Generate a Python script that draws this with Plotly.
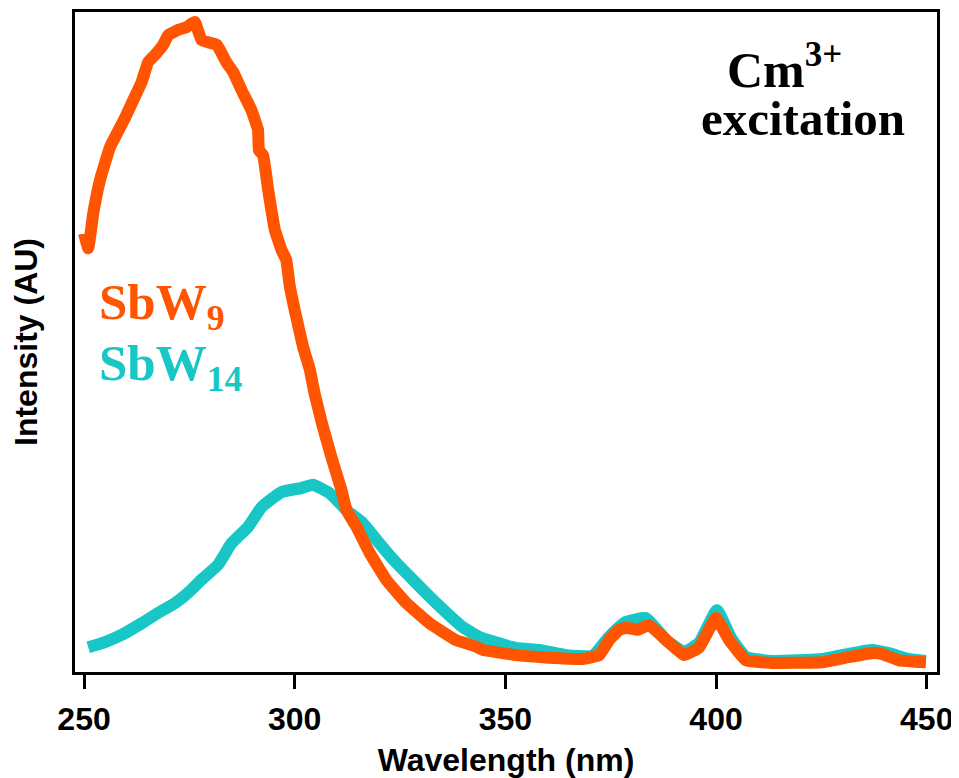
import plotly.graph_objects as go

# Wavelength (nm) and intensity (AU, normalised to SbW9 maximum)
sbw9_wl = [250.0, 251.0, 252.2, 253.8, 256.2, 259.7, 261.7, 263.7, 265.2, 266.8, 268.8, 270.0,
           272.4, 274.3, 276.3, 277.9, 281.5, 283.8, 285.4, 287.4, 289.7, 291.3, 291.5, 292.5,
           293.7, 295.3, 296.9, 298.0, 298.8, 300.0, 302.0, 303.6, 304.7, 306.7, 308.7, 311.1,
           312.3, 314.6, 317.8, 321.7, 326.5, 332.0, 338.3, 343.1, 344.6, 352.6, 360.4, 368.3,
           372.3, 374.6, 377.0, 378.7, 381.3, 384.1, 388.2, 392.4, 396.0, 400.0, 403.1, 407.1,
           413.3, 425.1, 431.5, 437.0, 439.3, 443.4, 449.8]
sbw9_int = [0.675, 0.652, 0.706, 0.757, 0.808, 0.852, 0.880, 0.908, 0.938, 0.949, 0.965, 0.980,
            0.988, 0.992, 1.000, 0.972, 0.965, 0.938, 0.923, 0.895, 0.865, 0.834, 0.803, 0.795,
            0.742, 0.680, 0.649, 0.634, 0.595, 0.557, 0.500, 0.465, 0.429, 0.377, 0.331, 0.280,
            0.249, 0.224, 0.183, 0.142, 0.106, 0.075, 0.049, 0.039, 0.034, 0.026, 0.022, 0.020,
            0.026, 0.049, 0.065, 0.068, 0.065, 0.072, 0.049, 0.026, 0.038, 0.083, 0.049, 0.018,
            0.014, 0.015, 0.023, 0.029, 0.028, 0.018, 0.015]

sbw14_wl = [251.0, 255.0, 258.9, 263.7, 267.6, 271.6, 274.7, 277.9, 281.8, 285.0, 288.9, 292.2,
            296.9, 301.6, 304.3, 308.3, 312.3, 316.2, 320.1, 324.1, 328.8, 333.6, 339.9, 343.8,
            352.5, 358.1, 364.4, 370.7, 374.6, 378.6, 383.3, 388.2, 392.4, 396.0, 400.2, 403.6,
            407.1, 413.3, 425.1, 431.5, 437.0, 441.0, 445.7, 449.8]
sbw14_int = [0.038, 0.046, 0.057, 0.075, 0.091, 0.106, 0.122, 0.142, 0.165, 0.198, 0.223, 0.254,
             0.277, 0.283, 0.288, 0.275, 0.249, 0.229, 0.198, 0.168, 0.137, 0.106, 0.069, 0.054,
             0.037, 0.034, 0.026, 0.025, 0.054, 0.077, 0.083, 0.049, 0.031, 0.045, 0.095, 0.052,
             0.023, 0.017, 0.020, 0.028, 0.034, 0.029, 0.020, 0.017]

x_ticks = [250, 300, 350, 400, 450]

ORANGE = "#FF5500"
CYAN = "#18C6C6"

fig = go.Figure()
fig.add_trace(go.Scatter(x=sbw14_wl, y=sbw14_int, mode="lines",
                         line=dict(color=CYAN, width=12, shape="spline", smoothing=0.4),
                         name="SbW14"))
fig.add_trace(go.Scatter(x=sbw9_wl, y=sbw9_int, mode="lines",
                         line=dict(color=ORANGE, width=12, shape="spline", smoothing=0.3),
                         name="SbW9"))

sans = "Liberation Sans, Arial, sans-serif"
serif = "Liberation Serif, Times New Roman, serif"

fig.update_layout(
    width=951, height=770,
    margin=dict(l=67, r=22, t=4, b=106),
    paper_bgcolor="white", plot_bgcolor="white",
    showlegend=False,
    xaxis=dict(range=[247.86, 452.44], tickvals=x_ticks, ticks="outside", ticklen=14,
               tickwidth=3, tickcolor="black", showline=True, linewidth=3, linecolor="black",
               mirror=True, showgrid=False, zeroline=False, automargin=False,
               ticklabelstandoff=3,
               tickfont=dict(family=sans, size=32, color="black", weight="bold"),
               title=dict(text="Wavelength (nm)", standoff=13,
                          font=dict(family=sans, size=32, color="black", weight="bold"))),
    yaxis=dict(range=[0, 1.0154], showticklabels=False, ticks="", showline=True, linewidth=3,
               linecolor="black", mirror=True, showgrid=False, zeroline=False, automargin=False,
               title=dict(text="Intensity (AU)", standoff=25,
                          font=dict(family=sans, size=32, color="black", weight="bold"))),
)

fig.add_annotation(text="SbW<sub>9</sub>", xref="paper", yref="paper", x=0.026, y=0.554,
                   xanchor="left", yanchor="middle", showarrow=False,
                   font=dict(family=serif, size=51, color=ORANGE, weight="bold"))
fig.add_annotation(text="SbW<sub>14</sub>", xref="paper", yref="paper", x=0.026, y=0.462,
                   xanchor="left", yanchor="middle", showarrow=False,
                   font=dict(family=serif, size=51, color=CYAN, weight="bold"))
fig.add_annotation(text="Cm<sup>3+</sup>", xref="paper", yref="paper", x=0.823, y=0.918,
                   xanchor="center", yanchor="middle", showarrow=False,
                   font=dict(family=serif, size=50, color="black", weight="bold"))
fig.add_annotation(text="excitation", xref="paper", yref="paper", x=0.845, y=0.838,
                   xanchor="center", yanchor="middle", showarrow=False,
                   font=dict(family=serif, size=49, color="black", weight="bold"))

fig.write_html("out.html")
